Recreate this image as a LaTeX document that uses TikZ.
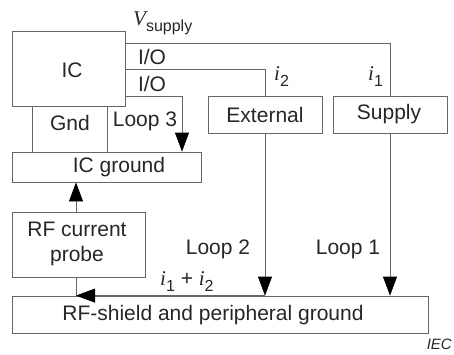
\documentclass[tikz,border=0pt]{standalone}
\usepackage{fontspec}
\setmainfont{Liberation Sans}
\newfontfamily\itserif{Liberation Serif}
\usetikzlibrary{arrows.meta}
\newcommand{\cur}[2]{{\itserif\itshape #1}\raisebox{-6pt}{\fontsize{16}{16}\selectfont #2}}
\tikzset{
  blk/.style={draw=black!60, line width=0.8pt, inner sep=0pt, align=center},
  wire/.style={draw=black!60, line width=0.8pt},
  lbl/.style={text=black!85, inner sep=0pt}
}
\begin{document}
\begin{tikzpicture}[x=1pt, y=-1pt,
  >={Triangle[length=19pt, width=14pt, color=black]},
  font=\fontsize{21}{25}\selectfont]
\useasboundingbox (0,0) rectangle (454,354);
% blocks
\node[blk, minimum width=113pt, minimum height=75pt] (ic) at (68.5,69) {};
\node[blk, minimum width=189pt, minimum height=30pt] (icgnd) at (106.5,167) {};
\node[blk, minimum width=114pt, minimum height=37pt] (ext) at (265,114.5) {};
\node[blk, minimum width=114pt, minimum height=37pt] (sup) at (390,114.5) {};
\node[blk, minimum width=133pt, minimum height=65pt] (probe) at (78.5,244.5) {};
\node[blk, minimum width=416pt, minimum height=37pt] (shield) at (220,314.5) {};
% texts
\node[lbl] (tic) at (72,70) {IC};
\node[lbl] (ticgnd) at (119,167) {IC ground};
\node[lbl] (text) at (265,114.5) {External};
\node[lbl] (tsup) at (389,114.5) {Supply};
\node[lbl, align=center] (tprobe) at (77,244) {RF current\\probe};
\node[lbl] (tshield) at (213,315) {RF-shield and peripheral ground};
% wires
\draw[wire] (ic.east |- 0,43) -| (sup.north);
\draw[wire] (ic.east |- 0,69) -| (ext.north);
\draw[wire, ->] (ic.east |- 0,96) -| (icgnd.north -| 182,0);
\draw[wire] (ic.south -| 32,0) -- (icgnd.north -| 32,0);
\draw[wire] (ic.south -| 107,0) -- (icgnd.north -| 107,0);
\draw[wire, ->] (probe.north -| 76,0) -- (icgnd.south -| 76,0);
\draw[wire] (probe.south -| 76,0) -- (shield.north -| 76,0);
\draw[wire, ->] (ext.south) -- (ext |- shield.north);
\draw[wire, ->] (sup.south) -- (sup |- shield.north);
\draw[wire, ->] (ext |- shield.north) -- (shield.north -| 76,0);
% labels
\node[lbl, anchor=base west] (vs) at (133,25) {\cur{V}{supply}};
\node[lbl] (io1) at (152,57) {I/O};
\node[lbl] (io2) at (152,84) {I/O};
\node[lbl] (gnd) at (70,123) {Gnd};
\node[lbl] (l3) at (145,121) {Loop 3};
\node[lbl, anchor=base west] (i2) at (274,80) {\cur{i}{2}};
\node[lbl, anchor=base west] (i1) at (368,80) {\cur{i}{1}};
\node[lbl] (l2) at (218,249) {Loop 2};
\node[lbl] (l1) at (348,249) {Loop 1};
\node[lbl, anchor=base west] (isum) at (160,285) {\cur{i}{1} + \cur{i}{2}};
\node[lbl, anchor=base east, font=\fontsize{15}{15}\selectfont\itshape] (iec) at (452,349) {IEC};
\end{tikzpicture}
\end{document}
